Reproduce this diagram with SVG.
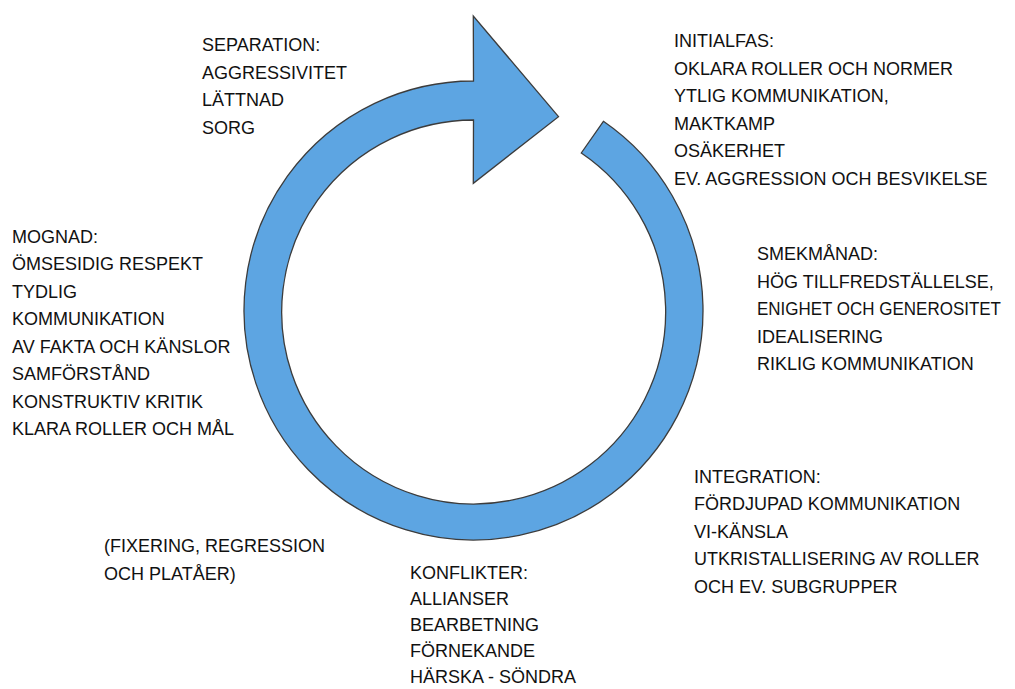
<svg xmlns="http://www.w3.org/2000/svg" width="1015" height="689" viewBox="0 0 1015 689">
  <style>
    .lbl { font-family: "Liberation Sans", Arial, sans-serif; font-size: 18px; fill: #111; }
    .ring { fill: #5DA5E2; stroke: #3c3c3c; stroke-width: 1.3; stroke-linejoin: miter; }
  </style>
  <rect width="1015" height="689" fill="#ffffff"/>

  <!-- circular arrow -->
  <g id="cycle-arrow">
    <path class="ring" d="M 603.4 121.3 A 229.5 229.5 0 1 1 473.5 81 L 473.3 16 L 558.5 116.7 L 473.3 183.3 L 473.5 120 A 192 192 0 1 0 581.3 153 Z"/>
  </g>

  <g id="connectors"></g>

  <g id="separation">
    <text class="lbl" x="202" y="51">SEPARATION:</text>
    <text class="lbl" x="202" y="78.5">AGGRESSIVITET</text>
    <text class="lbl" x="202" y="106">LÄTTNAD</text>
    <text class="lbl" x="202" y="133.5">SORG</text>
  </g>

  <g id="initialfas">
    <text class="lbl" x="674" y="47">INITIALFAS:</text>
    <text class="lbl" x="674" y="74.5">OKLARA ROLLER OCH NORMER</text>
    <text class="lbl" x="674" y="102">YTLIG KOMMUNIKATION,</text>
    <text class="lbl" x="674" y="129.5">MAKTKAMP</text>
    <text class="lbl" x="674" y="157">OSÄKERHET</text>
    <text class="lbl" x="674" y="184.5">EV. AGGRESSION OCH BESVIKELSE</text>
  </g>

  <g id="mognad">
    <text class="lbl" x="12" y="242.5">MOGNAD:</text>
    <text class="lbl" x="12" y="270">ÖMSESIDIG RESPEKT</text>
    <text class="lbl" x="12" y="297.5">TYDLIG</text>
    <text class="lbl" x="12" y="325">KOMMUNIKATION</text>
    <text class="lbl" x="12" y="352.5">AV FAKTA OCH KÄNSLOR</text>
    <text class="lbl" x="12" y="380">SAMFÖRSTÅND</text>
    <text class="lbl" x="12" y="407.5">KONSTRUKTIV KRITIK</text>
    <text class="lbl" x="12" y="435">KLARA ROLLER OCH MÅL</text>
  </g>

  <g id="smekmanad">
    <text class="lbl" x="757" y="260">SMEKMÅNAD:</text>
    <text class="lbl" x="757" y="287.5">HÖG TILLFREDSTÄLLELSE,</text>
    <text class="lbl" x="757" y="315" textLength="244" lengthAdjust="spacingAndGlyphs">ENIGHET OCH GENEROSITET</text>
    <text class="lbl" x="757" y="342.5">IDEALISERING</text>
    <text class="lbl" x="757" y="370">RIKLIG KOMMUNIKATION</text>
  </g>

  <g id="integration">
    <text class="lbl" x="694" y="482.5">INTEGRATION:</text>
    <text class="lbl" x="694" y="510">FÖRDJUPAD KOMMUNIKATION</text>
    <text class="lbl" x="694" y="537.5">VI-KÄNSLA</text>
    <text class="lbl" x="694" y="565">UTKRISTALLISERING AV ROLLER</text>
    <text class="lbl" x="694" y="592.5">OCH EV. SUBGRUPPER</text>
  </g>

  <g id="fixering">
    <text class="lbl" x="104" y="552">(FIXERING, REGRESSION</text>
    <text class="lbl" x="104" y="579.5">OCH PLATÅER)</text>
  </g>

  <g id="konflikter">
    <text class="lbl" x="410" y="579">KONFLIKTER:</text>
    <text class="lbl" x="410" y="605">ALLIANSER</text>
    <text class="lbl" x="410" y="631">BEARBETNING</text>
    <text class="lbl" x="410" y="657">FÖRNEKANDE</text>
    <text class="lbl" x="410" y="683">HÄRSKA - SÖNDRA</text>
  </g>
</svg>
